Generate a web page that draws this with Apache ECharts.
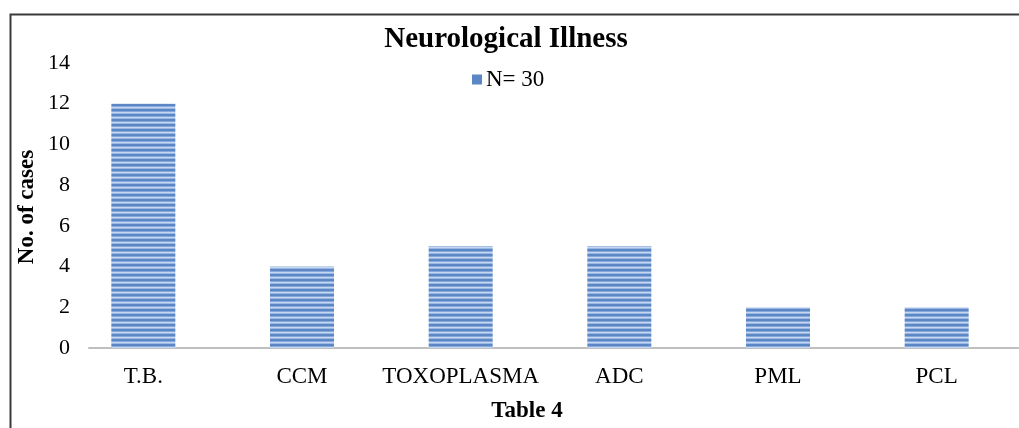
<!DOCTYPE html>
<html>
<head>
<meta charset="utf-8">
<script src="https://cdn.jsdelivr.net/npm/echarts@6/dist/echarts.min.js"></script>
<style>
  html, body { margin: 0; padding: 0; background: #fff; }
  #chart { width: 1019px; height: 428px; }
</style>
</head>
<body>
<div id="chart"></div>
<script>
// Neurological illness case counts
const categories = ['T.B.', 'CCM', 'TOXOPLASMA', 'ADC', 'PML', 'PCL'];
const cases = [12, 4, 5, 5, 2, 2];
const seriesName = 'N= 30';
const yTicks = { min: 0, max: 14, interval: 2 };

// Horizontal-stripe fill for the bars
function stripePattern() {
  const c = document.createElement('canvas');
  c.width = 4; c.height = 5;
  const g = c.getContext('2d');
  g.fillStyle = '#5b87c5'; g.fillRect(0, 0, 4, 5);
  g.fillStyle = '#86a8da'; g.fillRect(0, 1, 4, 1);
  g.fillStyle = '#c6d8f1'; g.fillRect(0, 2, 4, 1);
  g.fillStyle = '#9cb8e2'; g.fillRect(0, 3, 4, 1);
  return { image: c, repeat: 'repeat' };
}

const font = '"Liberation Serif", "Times New Roman", serif';
const chart = echarts.init(document.getElementById('chart'), null, { renderer: 'canvas' });

chart.setOption({
  animation: false,
  backgroundColor: '#fff',
  title: {
    text: 'Neurological Illness',
    left: 501, top: 20, textAlign: 'center',
    textStyle: { fontFamily: font, fontWeight: 'bold', fontSize: 29, color: '#000' }
  },
  legend: {
    data: [{ name: seriesName, itemStyle: { color: '#5b87c5' } }],
    left: 467, top: 63,
    itemWidth: 10, itemHeight: 10, itemGap: 4,
    icon: 'rect',
    textStyle: { fontFamily: font, fontSize: 23, color: '#000', padding: [0, 0, 0, -1] }
  },
  graphic: [
    {
      type: 'rect', left: 8, top: 12,
      shape: { width: 1030, height: 430 },
      style: { fill: 'none', stroke: '#3a3a3a', lineWidth: 2 }
    },
    {
      type: 'text', x: 27, y: 207, rotation: Math.PI / 2,
      style: { text: 'No. of cases', font: 'bold 23px ' + font, fill: '#000',
               align: 'center', verticalAlign: 'middle' }
    },
    {
      type: 'text', x: 527, y: 411,
      style: { text: 'Table 4', font: 'bold 23px ' + font, fill: '#000',
               align: 'center', verticalAlign: 'middle' }
    }
  ],
  grid: [
    { left: 64, right: 3, top: 63, bottom: 80 },
    { left: 89, right: 0, top: 63, bottom: 80 }
  ],
  xAxis: [
    {
      type: 'category', gridIndex: 0, data: categories,
      axisLine: { show: false }, axisTick: { show: false },
      axisLabel: { fontFamily: font, fontSize: 23, color: '#000', margin: 17, interval: 0 }
    },
    {
      type: 'category', gridIndex: 1, data: categories,
      axisLine: { show: true, lineStyle: { color: '#bfbfbf', width: 2 } },
      axisTick: { show: false }, axisLabel: { show: false }
    }
  ],
  yAxis: [
    {
      type: 'value', gridIndex: 0, min: yTicks.min, max: yTicks.max, interval: yTicks.interval,
      axisLine: { show: false }, axisTick: { show: false },
      axisLabel: { show: false }, splitLine: { show: false }
    },
    {
      type: 'value', gridIndex: 1, min: yTicks.min, max: yTicks.max, interval: yTicks.interval,
      axisLine: { show: false }, axisTick: { show: false }, splitLine: { show: false },
      axisLabel: { fontFamily: font, fontSize: 22, color: '#000', margin: 19 }
    }
  ],
  series: [{
    name: seriesName, type: 'bar', xAxisIndex: 0, yAxisIndex: 0,
    data: cases, barWidth: 64,
    itemStyle: { color: stripePattern() }
  }]
});
</script>
</body>
</html>
